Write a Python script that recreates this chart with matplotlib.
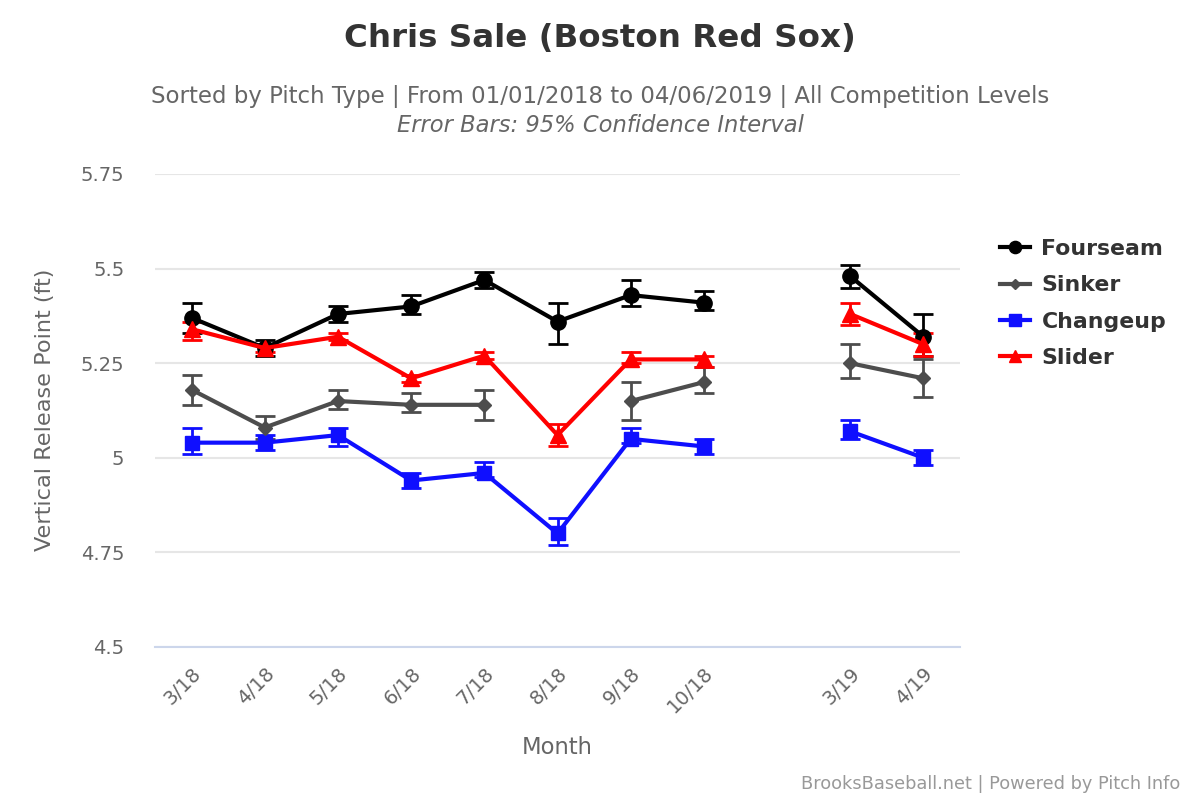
import numpy as np
import matplotlib
matplotlib.use('Agg')
import matplotlib.pyplot as plt

plt.rcParams['font.family'] = ['DejaVu Sans']

# month slots, slot 8 is the empty gap between seasons
months = ['3/18', '4/18', '5/18', '6/18', '7/18', '8/18', '9/18', '10/18', '', '3/19', '4/19']
nan = np.nan

fourseam = [5.37, 5.29, 5.38, 5.40, 5.47, 5.36, 5.43, 5.41, nan, 5.48, 5.32]
fourseam_lo = [5.33, 5.27, 5.36, 5.38, 5.45, 5.30, 5.40, 5.39, nan, 5.45, 5.27]
fourseam_hi = [5.41, 5.31, 5.40, 5.43, 5.49, 5.41, 5.47, 5.44, nan, 5.51, 5.38]

sinker = [5.18, 5.08, 5.15, 5.14, 5.14, nan, 5.15, 5.20, nan, 5.25, 5.21]
sinker_lo = [5.14, 5.05, 5.13, 5.12, 5.10, nan, 5.10, 5.17, nan, 5.21, 5.16]
sinker_hi = [5.22, 5.11, 5.18, 5.17, 5.18, nan, 5.20, 5.24, nan, 5.30, 5.26]

changeup = [5.04, 5.04, 5.06, 4.94, 4.96, 4.80, 5.05, 5.03, nan, 5.07, 5.00]
changeup_lo = [5.01, 5.02, 5.03, 4.92, 4.95, 4.77, 5.04, 5.01, nan, 5.05, 4.98]
changeup_hi = [5.08, 5.06, 5.08, 4.96, 4.99, 4.84, 5.08, 5.05, nan, 5.10, 5.02]

slider = [5.34, 5.29, 5.32, 5.21, 5.27, 5.06, 5.26, 5.26, nan, 5.38, 5.30]
slider_lo = [5.31, 5.28, 5.31, 5.20, 5.26, 5.03, 5.25, 5.24, nan, 5.35, 5.27]
slider_hi = [5.36, 5.30, 5.33, 5.22, 5.28, 5.09, 5.28, 5.27, nan, 5.41, 5.33]

series = [
    ('Fourseam', fourseam, fourseam_lo, fourseam_hi, '#000000', 'o', 11),
    ('Sinker', sinker, sinker_lo, sinker_hi, '#4d4d4d', 'D', 7),
    ('Changeup', changeup, changeup_lo, changeup_hi, '#0f0fff', 's', 10),
    ('Slider', slider, slider_lo, slider_hi, '#ff0000', '^', 11),
]

fig = plt.figure(figsize=(12, 8), dpi=100)
ax = fig.add_axes([155/1200, 153/800, 805/1200, 473/800])

x = np.arange(len(months))
for name, vals, lo, hi, col, mk, ms in series:
    vals = np.array(vals)
    lo = np.array(lo)
    hi = np.array(hi)
    ax.errorbar(x, vals, yerr=[vals - lo, hi - vals], fmt='none', ecolor=col,
                elinewidth=2, capsize=7, capthick=2, zorder=3)
    ax.plot(x, vals, color=col, lw=3, marker=mk, ms=ms, label=name, zorder=4)

ax.set_xlim(-0.5, len(months) - 0.5)
ax.set_ylim(4.5, 5.75)
ax.set_yticks([4.5, 4.75, 5.0, 5.25, 5.5, 5.75])
ax.set_yticklabels(['4.5', '4.75', '5', '5.25', '5.5', '5.75'])
tick_pos = [i for i, m in enumerate(months) if m]
ax.set_xticks(tick_pos)
ax.set_xticklabels([months[i] for i in tick_pos], rotation=45, ha='right',
                   rotation_mode='anchor')
ax.tick_params(axis='both', length=0, labelsize=14, colors='#666666')
ax.tick_params(axis='x', pad=12)
ax.tick_params(axis='y', pad=22)
ax.grid(axis='y', color='#e6e6e6', lw=1.5)
ax.set_axisbelow(True)
for s in ['top', 'right', 'left']:
    ax.spines[s].set_visible(False)
ax.spines['bottom'].set_color('#ccd6eb')
ax.spines['bottom'].set_linewidth(1.5)

fig.text(0.5, 1 - 38/800, 'Chris Sale (Boston Red Sox)', ha='center', va='center',
         fontsize=23.4, fontweight='bold', color='#333333')
fig.text(0.5, 1 - 96/800,
         'Sorted by Pitch Type | From 01/01/2018 to 04/06/2019 | All Competition Levels',
         ha='center', va='center', fontsize=16.5, color='#666666')
fig.text(0.5, 1 - 126/800, 'Error Bars: 95% Confidence Interval', ha='center',
         va='center', fontsize=16.3, color='#666666', style='italic')
fig.text(45/1200, 1 - 410/800, 'Vertical Release Point (ft)', rotation=90,
         ha='center', va='center', fontsize=16.1, color='#666666')
fig.text(557/1200, 1 - 748/800, 'Month', ha='center', va='center',
         fontsize=16.3, color='#666666')
fig.text(1180/1200, 1 - 784/800, 'BrooksBaseball.net | Powered by Pitch Info',
         ha='right', va='center', fontsize=12.8, color='#999999')

leg = ax.legend(loc='upper left', bbox_to_anchor=(980/1200, 1 - 219/800),
                bbox_transform=fig.transFigure, frameon=False, handlelength=1.4,
                handletextpad=0.5, labelspacing=0.75, markerscale=0.8,
                prop={'size': 15.8, 'weight': 'bold'})
for t in leg.get_texts():
    t.set_color('#333333')

fig.savefig('out.png', dpi=100)
